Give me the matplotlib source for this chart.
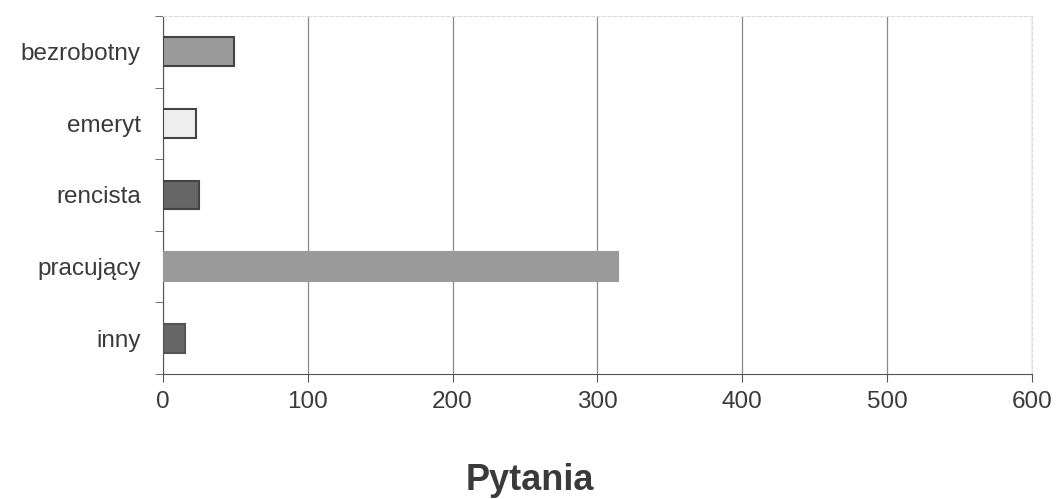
import matplotlib.pyplot as plt

plt.rcParams["font.family"] = ["Liberation Sans", "DejaVu Sans"]

categories = ["bezrobotny", "emeryt", "rencista", "pracujący", "inny"]
values = [49, 23, 25, 314, 15]
colors = ["#9a9a9a", "#efefef", "#666666", "#9a9a9a", "#666666"]
edges = ["#444444", "#444444", "#444444", "#9a9a9a", "#555555"]

fig = plt.figure(figsize=(10.56, 4.99), dpi=100)
ax = fig.add_axes([0.1544, 0.2505, 0.8226, 0.7175])

ypos = list(range(len(categories)))[::-1]
ax.barh(ypos, values, height=0.4, color=colors, edgecolor=edges, linewidth=1.5, zorder=3)

ax.set_xlim(0, 600)
ax.set_ylim(-0.5, 4.5)
ax.set_xticks(range(0, 601, 100))
ax.set_yticks(ypos)
ax.set_yticklabels(categories)
ax.set_yticks([i + 0.5 for i in range(-1, 5)], minor=True)
ax.tick_params(axis="y", which="major", length=0, pad=16, labelsize=17.5, labelcolor="#3a3a3a")
ax.tick_params(axis="y", which="minor", length=6, color="#555555", direction="out")
ax.tick_params(axis="x", length=6, color="#555555", labelsize=17.5, labelcolor="#3a3a3a", pad=6)

ax.grid(axis="x", color="#8a8a8a", linewidth=0.9, zorder=0)
for s in ["top", "right"]:
    ax.spines[s].set_color("#dddddd")
    ax.spines[s].set_linestyle((0, (3, 2)))
for s in ["left", "bottom"]:
    ax.spines[s].set_color("#555555")

fig.text(0.502, 0.018, "Pytania", ha="center", fontsize=26, fontweight="bold", color="#3a3a3a")

fig.savefig("out.png", dpi=100)
